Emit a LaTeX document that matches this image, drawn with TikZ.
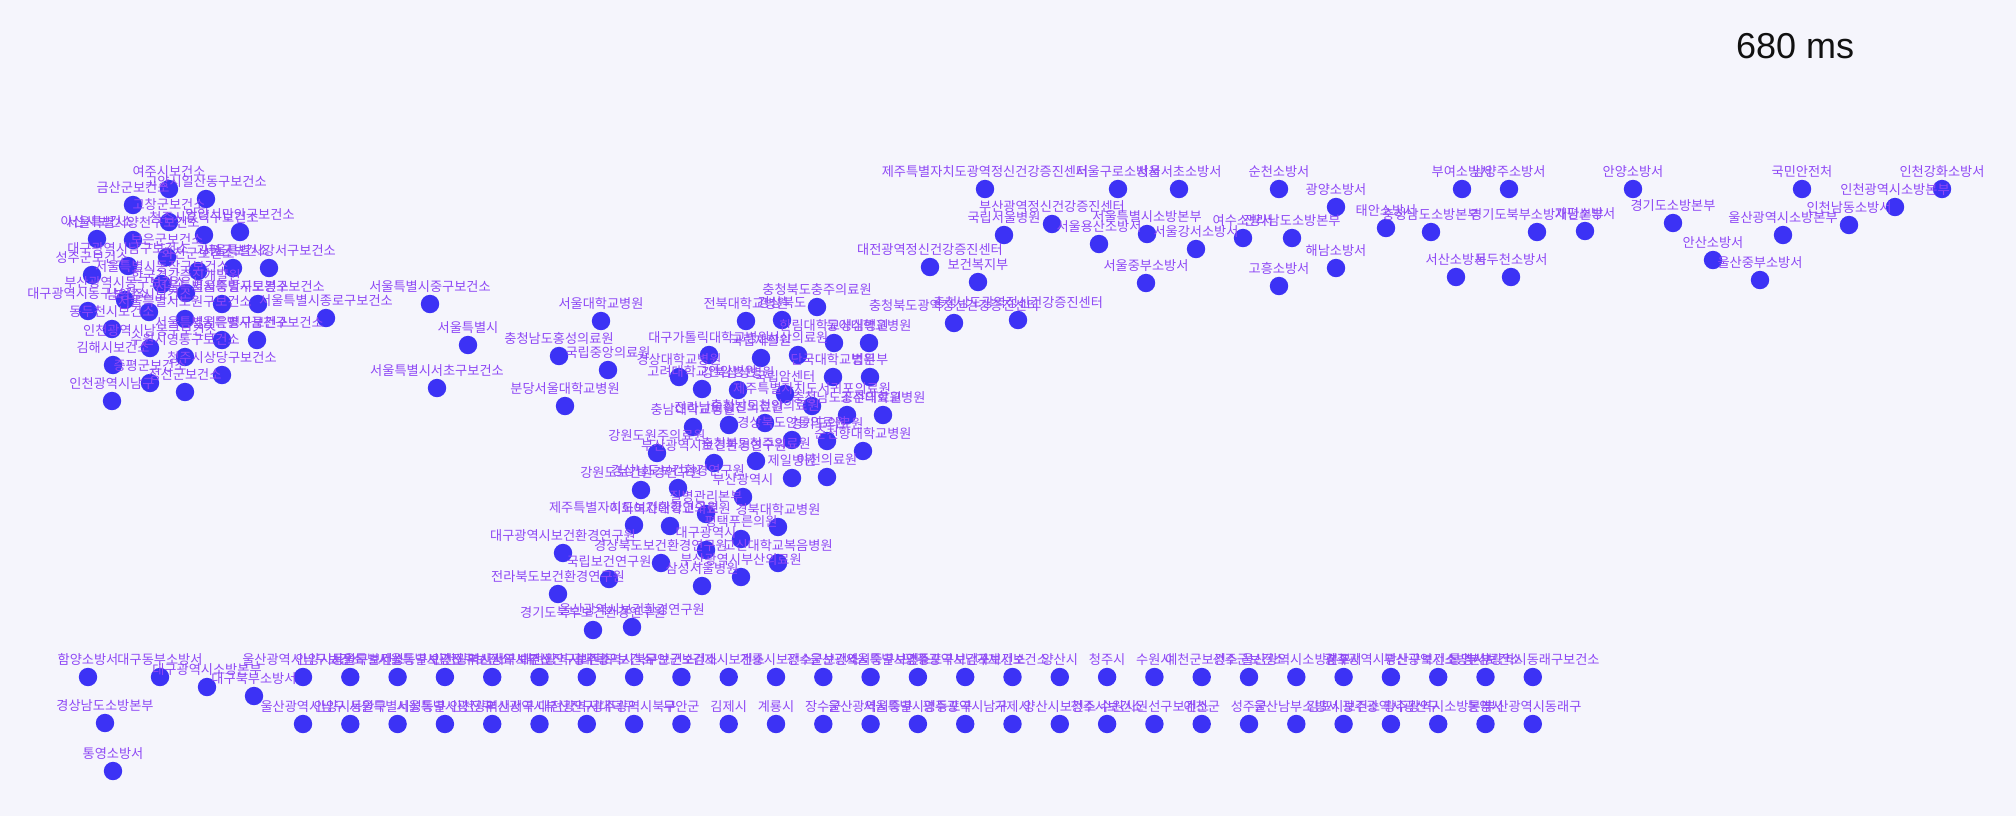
\documentclass[tikz,border=0pt]{standalone}
\usepackage{fontspec}
\setmainfont{Liberation Sans}
\newfontfamily\kofont{Noto Sans CJK KR}
\usetikzlibrary{positioning}
\definecolor{bgcol}{HTML}{F5F5FC}
\definecolor{orgcol}{HTML}{3C32F5}
\definecolor{linkcol}{HTML}{5AAFF5}
\definecolor{lblcol}{HTML}{8E48F5}
\definecolor{clockcol}{HTML}{111111}
\pgfdeclarelayer{edges}
\pgfdeclarelayer{labels}
\pgfsetlayers{edges,main,labels}

\begin{document}
\begin{tikzpicture}[x=0.5pt,y=-0.5pt,
    my org/.style={circle,fill=orgcol,draw=none,minimum size=9.2pt,inner sep=0pt,outer sep=0pt},
    my label/.style={text=lblcol,font=\kofont\fontsize{6.6}{7.5}\selectfont,inner sep=0pt,outer sep=0pt,
      text height=5.3pt,text depth=0.6pt},
    my link/.style={draw=linkcol,line width=1.1pt},
  ]
  \fill[bgcol] (0,0) rectangle (2016,816);
  \node[font=\fontsize{18}{20}\selectfont,text=clockcol] (clock) at (1795,46) {680 ms};
  %
  \foreach \nm/\px/\py/\lab in {
    % health centres round the left hub
    hL/186/293/한국건강증진개발원,
    l1/169/189/여주시보건소, l2/206/199/고양시일산동구보건소, l3/133/205/금산군보건소,
    l4/169/222/고창군보건소, l5/204/235/청주시흥덕구보건소, l6/240/232/안양시만안구보건소,
    l7/97/239/아산시보건소, l8/133/240/서울특별시양천구보건소, l9/167/257/보은군보건소,
    l10/198/271/화천군보건소, l11/233/268/가평군보건소, l12/269/268/서울특별시강서구보건소,
    l13/92/275/성주군보건소, l14/128/266/대구광역시남구보건소, l15/162/284/서울특별시동작구보건소,
    l16/222/304/서울특별시중랑구보건소, l17/258/304/서울특별시도봉구보건소, l18/125/300/부산광역시동구보건소,
    l19/88/311/대구광역시동구보건소, l20/149/312/남양주시보건소, l21/185/319/서울특별시노원구보건소,
    l22/257/340/서울특별시금천구보건소, l23/222/340/서울특별시은평구보건소, l24/112/329/동두천시보건소,
    l25/150/348/인천광역시남동구보건소, l26/185/357/수원시영통구보건소, l27/113/365/김해시보건소,
    l28/222/375/청주시상당구보건소, l29/150/383/증평군보건소, l30/185/392/정선군보건소,
    l31/112/401/인천광역시남구, jongno/326/318/서울특별시종로구보건소,
    % seoul and the national medical centre
    seoul/468/345/서울특별시, jung/430/304/서울특별시중구보건소, seocho/437/388/서울특별시서초구보건소,
    nmc/608/370/국립중앙의료원, snuh/601/321/서울대학교병원, hongs/559/356/충청남도홍성의료원,
    bundang/565/406/분당서울대학교병원,
    % hospitals
    h2/785/394/국립암센터,
    m1/709/355/대구가톨릭대학교병원, m2/679/377/경상대학교병원, m3/702/389/고려대학교안암병원,
    m4/738/390/강북삼성병원, m5/746/321/전북대학교병원, m6/782/320/경상북도,
    m7/817/307/충청북도충주의료원, m8/761/358/국립재활원, m9/798/355/서산의료원,
    m10/834/343/한림대학교성심병원, m11/869/343/동아대학교병원, m13/833/377/단국대학교병원,
    m14/870/377/법무부, m15/812/406/제주특별자치도서귀포의료원, m16/847/415/충청남도공주의료원,
    m17/883/415/조선대학교병원, m18/765/423/충청남도천안의료원, m19/729/425/전라남도강진의료원,
    m20/693/427/충남대학교병원, m21/792/440/경상북도안동의료원, m22/827/441/경기도의료원,
    m23/756/461/충청북도청주의료원, m24/792/478/제일병원, m25/827/477/이천의료원,
    m26/657/453/강원도원주의료원, m27/714/463/부산광역시보건환경연구원, m28/863/451/순천향대학교병원,
    % research institutes
    h3/706/514/질병관리본부,
    n1/641/490/강원도보건환경연구원, n2/678/488/경상남도보건환경연구원, n3/743/497/부산광역시,
    n4/634/525/제주특별자치도보건환경연구원, n5/670/526/이화여자대학교의료원, n6/778/527/경북대학교병원,
    n7/741/539/평택푸른의원, n8/706/550/대구광역시, n9/563/553/대구광역시보건환경연구원,
    n10/661/563/경상북도보건환경연구원, n11/778/563/고신대학교복음병원, n12/741/577/부산광역시부산의료원,
    n13/702/586/삼성서울병원, h4/609/579/국립보건연구원, n14/558/594/전라북도보건환경연구원,
    n15/593/630/경기도북부보건환경연구원, n16/632/627/울산광역시보건환경연구원,
    % mental health
    mohw/978/282/보건복지부, jejum/985/189/제주특별자치도광역정신건강증진센터, nsh/1004/235/국립서울병원,
    busanm/1052/224/부산광역정신건강증진센터, djm/930/267/대전광역정신건강증진센터,
    cbm/954/323/충청북도광역정신건강증진센터, cnm/1018/320/충청남도광역정신건강증진센터,
    % fire services
    sfire/1147/234/서울특별시소방본부, guro/1118/189/서울구로소방서, seochof/1179/189/서울서초소방서,
    yongsan/1099/244/서울용산소방서, gangseo/1196/249/서울강서소방서, jungbu/1146/283/서울중부소방서,
    jnfire/1292/238/전라남도소방본부, suncheon/1279/189/순천소방서, gwangyang/1336/207/광양소방서,
    yeosu/1243/238/여수소방서, haenam/1336/268/해남소방서, goheung/1279/286/고흥소방서,
    cnfire/1431/232/충청남도소방본부, taean/1386/228/태안소방서, buyeo/1462/189/부여소방서,
    seosan/1456/277/서산소방서,
    ggnfire/1537/232/경기도북부소방재난본부, nyj/1509/189/남양주소방서, ddc/1511/277/동두천소방서,
    gapyeong/1585/231/가평소방서,
    anyang/1633/189/안양소방서, ggfire/1673/223/경기도소방본부, ansan/1713/260/안산소방서,
    mpss/1802/189/국민안전처, usfire/1783/235/울산광역시소방본부, usjung/1760/280/울산중부소방서,
    icnd/1849/225/인천남동소방서, icfire/1895/207/인천광역시소방본부, icgh/1942/189/인천강화소방서,
    hamyang/88/677/함양소방서, gnfire/105/723/경상남도소방본부, tongyeong/113/771/통영소방서,
    dgdb/160/677/대구동부소방서, dgfire/207/687/대구광역시소방본부, dgbb/254/696/대구북부소방서%
  }{
    \node[my org] (\nm) at (\px,\py) {};
    \begin{pgfonlayer}{labels}
      \node[my label,above=1pt of \nm] (\nm-lbl) {\lab};
    \end{pgfonlayer}
  }
  %
  % pairs along the bottom
  \foreach \i/\up/\dn in {
    0/울산광역시남구보건소/울산광역시남구, 1/안양시동안구보건소/안양시동안구,
    2/서울특별시성동구보건소/서울특별시성동구, 3/서울특별시광진구보건소/서울특별시광진구,
    4/인천광역시서구보건소/인천광역시서구, 5/부산광역시부산진구보건소/부산광역시부산진구,
    6/대전광역시대덕구보건소/대전광역시대덕구, 7/광주광역시북구보건소/광주광역시북구,
    8/무안군보건소/무안군, 9/김제시보건소/김제시, 10/계룡시보건소/계룡시, 11/장수군보건소/장수군,
    12/울산광역시중구보건소/울산광역시중구, 13/서울특별시영등포구보건소/서울특별시영등포구,
    14/광주광역시남구보건소/광주광역시남구, 15/거제시보건소/거제시,
    16/양산시/양산시보건소, 17/청주시/청주시보건소, 18/수원시/수원시권선구보건소,
    19/예천군보건소/예천군, 20/성주군보건소/성주군, 21/울산광역시소방본부/울산남부소방서,
    22/김포시/김포시보건소, 23/광주광역시광산구보건소/광주광역시광산구,
    24/부산광역시소방본부/광주광역시소방본부, 25/통영시보건소/통영시,
    26/부산광역시동래구보건소/부산광역시동래구%
  }{
    \node[my org] (t\i) at ({303+47.3*\i},677) {};
    \node[my org] (b\i) at ({303+47.3*\i},724) {};
    \begin{pgfonlayer}{labels}
      \node[my label,above=1pt of t\i] (t\i-lbl) {\up};
      \node[my label,above=1pt of b\i] (b\i-lbl) {\dn};
    \end{pgfonlayer}
    \begin{pgfonlayer}{edges}
      \draw[my link] (t\i.center) -- (b\i.center);
    \end{pgfonlayer}
  }
  %
  \begin{pgfonlayer}{edges}
    \foreach \a/\b in {
      hL/l1, hL/l2, hL/l3, hL/l4, hL/l5, hL/l6, hL/l7, hL/l8, hL/l9, hL/l10, hL/l11,
      hL/l12, hL/l13, hL/l14, hL/l15, hL/l16, hL/l17, hL/l18, hL/l19, hL/l20, hL/l21,
      hL/l22, hL/l23, hL/l24, hL/l25, hL/l26, hL/l27, hL/l28, hL/l29, hL/l30, hL/l31,
      hL/jongno, hL/seoul,
      seoul/jung, seoul/seocho, seoul/nmc,
      nmc/snuh, nmc/hongs, nmc/bundang, nmc/m1, nmc/m2, nmc/m3, nmc/m4, nmc/h2, nmc/m20,
      h2/m5, h2/m6, h2/m7, h2/m8, h2/m9, h2/m10, h2/m11, h2/m13, h2/m14, h2/m15, h2/m16,
      h2/m17, h2/m18, h2/m19, h2/m20, h2/m21, h2/m22, h2/m23, h2/m24, h2/m25, h2/m28, h2/m27,
      h3/m26, h3/m27, h3/n1, h3/n2, h3/n3, h3/n4, h3/n5, h3/n6, h3/n7, h3/n8, h3/n10,
      h3/n11, h3/n12, h3/n13,
      h4/n10, h4/n14, h4/n15, h4/n16,
      mohw/nsh, mohw/djm, mohw/cbm, mohw/cnm, nsh/jejum, nsh/busanm,
      sfire/guro, sfire/seochof, sfire/yongsan, sfire/gangseo, sfire/jungbu,
      jnfire/suncheon, jnfire/gwangyang, jnfire/yeosu, jnfire/haenam, jnfire/goheung,
      cnfire/taean, cnfire/buyeo, cnfire/seosan,
      ggnfire/nyj, ggnfire/ddc, ggnfire/gapyeong,
      ggfire/anyang, ggfire/ansan, usfire/mpss, usfire/usjung, icfire/icnd, icfire/icgh,
      gnfire/hamyang, gnfire/tongyeong, dgfire/dgdb, dgfire/dgbb%
    }{
      \draw[my link] (\a.center) -- (\b.center);
    }
  \end{pgfonlayer}
\end{tikzpicture}
\end{document}
